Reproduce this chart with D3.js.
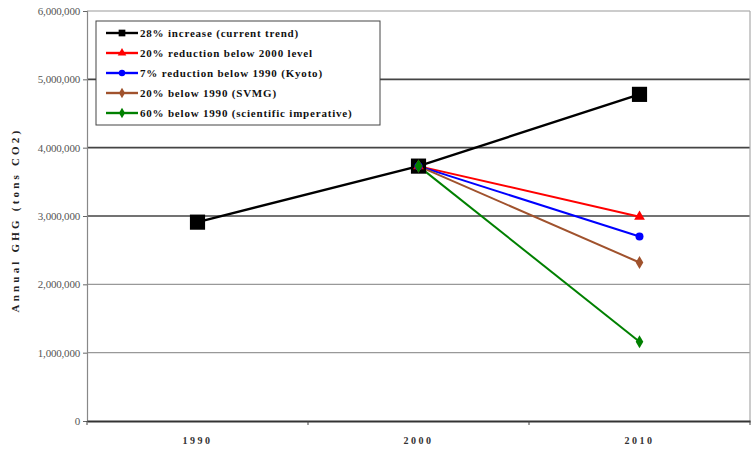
<!DOCTYPE html>
<html>
<head>
<meta charset="utf-8">
<script src="https://cdn.jsdelivr.net/npm/d3@7"></script>
<style>
  body { margin: 0; background: #fff; }
  svg text { font-family: "Liberation Serif", "Times New Roman", "DejaVu Serif", serif; }
</style>
</head>
<body>
<div class="container"></div>
<script>
(function () {

    //chart data
    var years = ["1990", "2000", "2010"];
    var yTicks = [0, 1000000, 2000000, 3000000, 4000000, 5000000, 6000000];
    var seriesNames = [
        "28% increase (current trend)",
        "20% reduction below 2000 level",
        "7% reduction below 1990 (Kyoto)",
        "20% below 1990 (SVMG)",
        "60% below 1990 (scientific imperative)"
    ];
    var currentTrend = [2910000, 3730000, 4780000];
    var reduction2000 = [null, 3730000, 2990000];
    var kyoto = [null, 3730000, 2700000];
    var svmg = [null, 3730000, 2320000];
    var scientific = [null, 3730000, 1160000];
    var seriesColors = ["#000000", "#ff0000", "#0000ff", "#a0522d", "#008000"];
    var seriesMarkers = ["square", "triangle", "circle", "diamond", "diamond"];

    var width = 754, height = 449;
    var margin = { top: 11, right: 4, bottom: 28, left: 87 };
    var innerW = width - margin.left - margin.right,
        innerH = height - margin.top - margin.bottom;

    var svg = d3.select(".container")
        .append("svg")
        .attr("width", width)
        .attr("height", height);

    var chart = svg.append("g")
        .attr("transform", "translate(" + margin.left + "," + margin.top + ")");

    var x = d3.scaleBand().domain(years).range([0, innerW]);
    var y = d3.scaleLinear().domain([0, 6000000]).range([innerH, 0]);

    //gridlines (upper ones come out darker in the original)
    chart.selectAll(".grid")
        .data(yTicks.slice(1))
        .enter()
        .append("line")
        .attr("x1", 0)
        .attr("x2", innerW)
        .attr("y1", function (d) { return y(d); })
        .attr("y2", function (d) { return y(d); })
        .style("stroke", function (d) { return d >= 3000000 && d < 6000000 ? "#444" : "#999"; })
        .style("stroke-width", function (d) { return d >= 3000000 && d < 6000000 ? 1.6 : 1.2; });

    //right border
    chart.append("line")
        .attr("x1", innerW).attr("x2", innerW)
        .attr("y1", 0).attr("y2", innerH)
        .style("stroke", "#aaa").style("stroke-width", 1.2);

    //y axis
    var yAxis = chart.append("g")
        .call(d3.axisLeft(y).tickValues(yTicks).tickSize(4).tickFormat(d3.format(",")));
    yAxis.attr("font-family", null);
    yAxis.select(".domain").style("stroke", "#888").style("stroke-width", 1.2);
    yAxis.selectAll(".tick line").style("stroke", "#666");
    yAxis.selectAll("text").attr("x", -7).style("font-size", "11px")
        .style("letter-spacing", "-0.2px").style("fill", "#555");

    //x axis
    var xAxis = chart.append("g")
        .attr("transform", "translate(0," + innerH + ")")
        .call(d3.axisBottom(x).tickSize(0));
    xAxis.attr("font-family", null);
    xAxis.select(".domain").style("stroke", "#333").style("stroke-width", 1.8);
    xAxis.selectAll("text").attr("dy", "2em").style("font-size", "10px")
        .style("font-weight", "bold").style("letter-spacing", "2.5px").style("fill", "#333");
    //boundary ticks between categories
    xAxis.selectAll(".bound")
        .data(years.concat(["end"]))
        .enter()
        .append("line")
        .attr("x1", function (d, i) { return i * x.bandwidth(); })
        .attr("x2", function (d, i) { return i * x.bandwidth(); })
        .attr("y1", 0).attr("y2", 4)
        .style("stroke", "#444");

    //y axis title
    svg.append("text")
        .attr("transform", "translate(19,220) rotate(-90)")
        .attr("text-anchor", "middle")
        .style("font-size", "11px")
        .style("font-weight", "bold")
        .style("letter-spacing", "3.2px")
        .style("fill", "#222")
        .text("Annual GHG (tons CO2)");

    var allSeries = [currentTrend, reduction2000, kyoto, svmg, scientific];
    var line = d3.line()
        .defined(function (d) { return d != null; })
        .x(function (d, i) { return x(years[i]) + x.bandwidth() / 2; })
        .y(function (d) { return y(d); });

    allSeries.forEach(function (vals, s) {
        chart.append("path")
            .datum(vals)
            .attr("d", line)
            .style("fill", "none")
            .style("stroke", seriesColors[s])
            .style("stroke-width", s === 0 ? 2.4 : 2);
    });

    function markerPath(type, size) {
        var sym = { square: d3.symbolSquare, triangle: d3.symbolTriangle, circle: d3.symbolCircle, diamond: d3.symbolDiamond }[type];
        return d3.symbol().type(sym).size(size)();
    }

    allSeries.forEach(function (vals, s) {
        chart.selectAll(".m" + s)
            .data(vals.map(function (v, i) { return { v: v, i: i }; }).filter(function (d) { return d.v != null; }))
            .enter()
            .append("path")
            .attr("transform", function (d) {
                return "translate(" + (x(years[d.i]) + x.bandwidth() / 2) + "," + y(d.v) + ")";
            })
            .attr("d", markerPath(seriesMarkers[s], s === 0 ? 230 : 50))
            .style("fill", seriesColors[s]);
    });

    //legend
    var legend = svg.append("g").attr("transform", "translate(96,21)");
    legend.append("rect")
        .attr("width", 284).attr("height", 104)
        .style("fill", "#fff").style("stroke", "#444").style("stroke-width", 1);
    seriesNames.forEach(function (name, i) {
        var row = legend.append("g").attr("transform", "translate(0," + (12 + i * 20) + ")");
        row.append("line")
            .attr("x1", 10).attr("x2", 42)
            .style("stroke", seriesColors[i]).style("stroke-width", 2.4);
        row.append("path")
            .attr("transform", "translate(26,0)")
            .attr("d", markerPath(seriesMarkers[i], i === 0 ? 45 : 32))
            .style("fill", seriesColors[i]);
        row.append("text")
            .attr("x", 44).attr("y", 3.5)
            .style("font-size", "11px")
            .style("font-weight", "bold")
            .style("letter-spacing", "0.8px")
            .style("fill", "#111")
            .text(name);
    });

})();
</script>
</body>
</html>
